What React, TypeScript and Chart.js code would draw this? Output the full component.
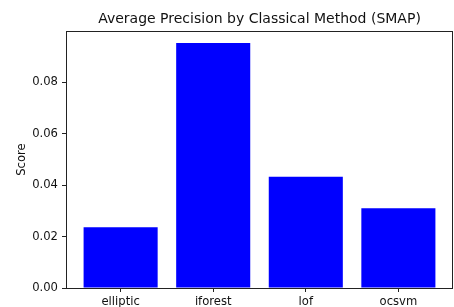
import React, { useEffect, useRef } from "react";
import { Chart, registerables } from "chart.js";

Chart.register(...registerables);

const categories = ["elliptic", "iforest", "lof", "ocsvm"];
const scores = [0.0236, 0.0952, 0.0432, 0.031];
const yTicks = [0, 0.02, 0.04, 0.06, 0.08];
const yMax = 0.0999;

const FONT = "'DejaVu Sans', sans-serif";

const spinePlugin = {
  id: "spines",
  afterDraw(chart: any) {
    const { ctx, chartArea } = chart;
    ctx.save();
    ctx.strokeStyle = "#222";
    ctx.lineWidth = 1;
    ctx.strokeRect(
      Math.round(chartArea.left) + 0.5,
      Math.round(chartArea.top) + 0.5,
      Math.round(chartArea.right - chartArea.left) - 1,
      Math.round(chartArea.bottom - chartArea.top)
    );
    ctx.restore();
  },
};

export default function App() {
  const ref = useRef<HTMLCanvasElement | null>(null);

  useEffect(() => {
    document.body.style.margin = "0";
    const canvas = ref.current;
    if (!canvas) return;
    const chart = new Chart(canvas, {
      type: "bar",
      data: {
        datasets: [
          {
            data: scores.map((v, i) => ({ x: i, y: v })),
            backgroundColor: "#0000ff",
            borderWidth: 0,
            barPercentage: 0.8,
            categoryPercentage: 1,
          },
        ],
      },
      options: {
        responsive: false,
        animation: false,
        layout: { padding: { left: 0, right: 1, top: 0, bottom: 0 } },
        plugins: {
          legend: { display: false },
          tooltip: { enabled: false },
          title: {
            display: true,
            text: "Average Precision by Classical Method (SMAP)",
            fullSize: false,
            color: "#111",
            font: { family: FONT, size: 14, weight: "normal" },
            padding: { top: 11, bottom: 3.2 },
          },
        },
        scales: {
          x: {
            type: "linear",
            min: -0.59,
            max: categories.length - 1 + 0.59,
            offset: false,
            afterBuildTicks: (scale: any) => {
              scale.ticks = categories.map((_, i) => ({ value: i }));
            },
            afterFit: (scale: any) => {
              scale.height = 19;
            },
            ticks: {
              autoSkip: false,
              maxRotation: 0,
              padding: 3,
              color: "#111",
              font: { family: FONT, size: 11.6 },
              callback: (v: any) => categories[Math.round(Number(v))] ?? "",
            },
            grid: {
              display: true,
              offset: false,
              drawOnChartArea: false,
              drawTicks: true,
              tickLength: 4,
              color: "#222",
            },
            border: { display: false },
          },
          y: {
            min: 0,
            max: yMax,
            afterBuildTicks: (scale: any) => {
              scale.ticks = yTicks.map((v) => ({ value: v }));
            },
            afterFit: (scale: any) => {
              scale.width = 66;
            },
            ticks: {
              padding: 4,
              color: "#111",
              font: { family: FONT, size: 11.6 },
              callback: (v: any) => Number(v).toFixed(2),
            },
            grid: {
              display: true,
              drawOnChartArea: false,
              drawTicks: true,
              tickLength: 4,
              color: "#222",
            },
            border: { display: false },
            title: {
              display: true,
              text: "Score",
              color: "#111",
              font: { family: FONT, size: 11.6 },
              padding: { top: 15, bottom: 0 },
            },
          },
        },
      },
      plugins: [spinePlugin],
    });
    return () => chart.destroy();
  }, []);

  return (
    <div style={{ position: "absolute", left: 0, top: 0, width: 454, height: 307, background: "#fff" }}>
      <canvas ref={ref} width={454} height={307} style={{ width: 454, height: 307 }} />
    </div>
  );
}
